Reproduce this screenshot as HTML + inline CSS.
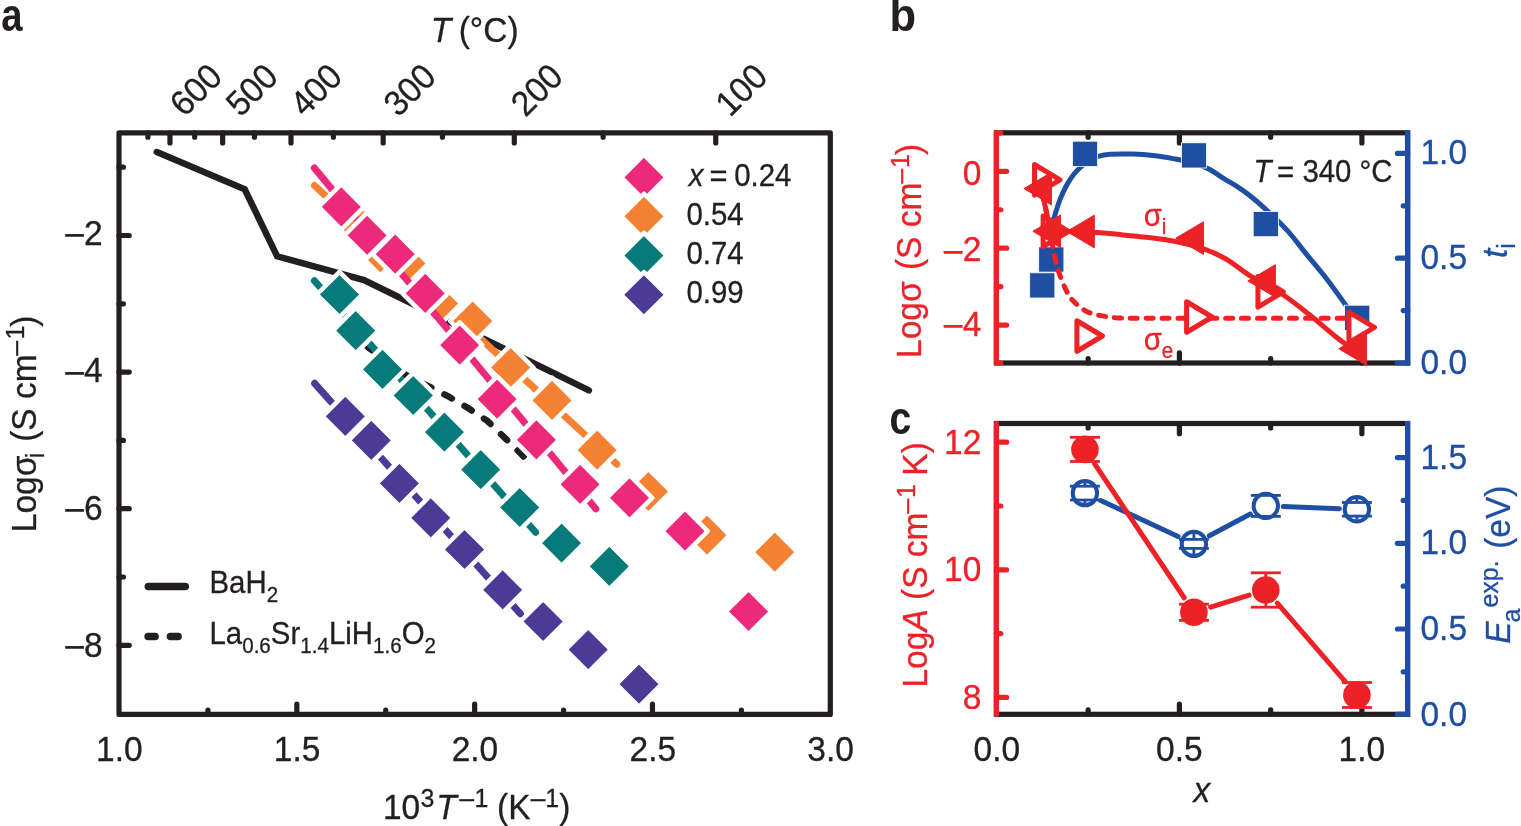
<!DOCTYPE html>
<html lang="en">
<head>
<meta charset="utf-8">
<title>Figure</title>
<style>
html,body{margin:0;padding:0;background:#fff;}
body{width:1521px;height:826px;overflow:hidden;}
svg{display:block;}
svg text{font-family:"Liberation Sans",sans-serif;white-space:pre;}
</style>
</head>
<body>
<svg width="1521" height="826" viewBox="0 0 1521 826">
<rect width="1521" height="826" fill="#fff"/>
<g id="panel-a">
<polyline points="156.8,152 244.7,189.3 277.2,256.3 364,280 588.9,390.3" fill="none" stroke="#231f20" stroke-width="6.5" stroke-linejoin="miter" stroke-linecap="round" />
<polyline points="358,338 369,348 406,375 432,388 448.2,396.3 467.7,407.8 487.3,420.8 503.7,436.8 520.7,453.4 526,459" fill="none" stroke="#231f20" stroke-width="6.5" stroke-linejoin="round" stroke-linecap="round" stroke-dasharray="8.5 14.7" stroke-dashoffset="12.31"/>
<line x1="314.4" y1="185.5" x2="616.9" y2="464.2" stroke="#f58232" stroke-width="7" stroke-linecap="round" />
<polygon points="354,198.3 376.7,221 354,243.7 331.3,221" fill="#f58232" stroke="#fff" stroke-width="4.5" stroke-linejoin="round"/>
<polygon points="380.3,230.1 403,252.8 380.3,275.5 357.6,252.8" fill="#f58232" stroke="#fff" stroke-width="4.5" stroke-linejoin="round"/>
<polygon points="405.9,240.7 428.6,263.4 405.9,286.1 383.2,263.4" fill="#f58232" stroke="#fff" stroke-width="4.5" stroke-linejoin="round"/>
<polygon points="438.5,280.8 461.2,303.5 438.5,326.2 415.8,303.5" fill="#f58232" stroke="#fff" stroke-width="4.5" stroke-linejoin="round"/>
<polygon points="472.7,298.3 495.4,321 472.7,343.7 450,321" fill="#f58232" stroke="#fff" stroke-width="4.5" stroke-linejoin="round"/>
<polygon points="510.7,344.8 533.4,367.5 510.7,390.2 488,367.5" fill="#f58232" stroke="#fff" stroke-width="4.5" stroke-linejoin="round"/>
<polygon points="552,377.6 574.7,400.3 552,423 529.3,400.3" fill="#f58232" stroke="#fff" stroke-width="4.5" stroke-linejoin="round"/>
<polygon points="597.1,427.4 619.8,450.1 597.1,472.8 574.4,450.1" fill="#f58232" stroke="#fff" stroke-width="4.5" stroke-linejoin="round"/>
<polygon points="648.4,468.8 671.1,491.5 648.4,514.2 625.7,491.5" fill="#f58232" stroke="#fff" stroke-width="4.5" stroke-linejoin="round"/>
<polygon points="707,512.4 729.7,535.1 707,557.8 684.3,535.1" fill="#f58232" stroke="#fff" stroke-width="4.5" stroke-linejoin="round"/>
<polygon points="774.7,529.5 797.4,552.2 774.7,574.9 752,552.2" fill="#f58232" stroke="#fff" stroke-width="4.5" stroke-linejoin="round"/>
<line x1="314.4" y1="168" x2="595.9" y2="508.9" stroke="#ec297b" stroke-width="7" stroke-linecap="round" />
<polygon points="341.3,184.2 364,206.9 341.3,229.6 318.6,206.9" fill="#ec297b" stroke="#fff" stroke-width="4.5" stroke-linejoin="round"/>
<polygon points="367.1,212.6 389.8,235.3 367.1,258 344.4,235.3" fill="#ec297b" stroke="#fff" stroke-width="4.5" stroke-linejoin="round"/>
<polygon points="395.2,231.4 417.9,254.1 395.2,276.8 372.5,254.1" fill="#ec297b" stroke="#fff" stroke-width="4.5" stroke-linejoin="round"/>
<polygon points="425.2,270.7 447.9,293.4 425.2,316.1 402.5,293.4" fill="#ec297b" stroke="#fff" stroke-width="4.5" stroke-linejoin="round"/>
<polygon points="459.7,322.4 482.4,345.1 459.7,367.8 437,345.1" fill="#ec297b" stroke="#fff" stroke-width="4.5" stroke-linejoin="round"/>
<polygon points="497.1,376.4 519.8,399.1 497.1,421.8 474.4,399.1" fill="#ec297b" stroke="#fff" stroke-width="4.5" stroke-linejoin="round"/>
<polygon points="536.4,417.1 559.1,439.8 536.4,462.5 513.7,439.8" fill="#ec297b" stroke="#fff" stroke-width="4.5" stroke-linejoin="round"/>
<polygon points="580.1,461.6 602.8,484.3 580.1,507 557.4,484.3" fill="#ec297b" stroke="#fff" stroke-width="4.5" stroke-linejoin="round"/>
<polygon points="629.5,475.2 652.2,497.9 629.5,520.6 606.8,497.9" fill="#ec297b" stroke="#fff" stroke-width="4.5" stroke-linejoin="round"/>
<polygon points="685,508.4 707.7,531.1 685,553.8 662.3,531.1" fill="#ec297b" stroke="#fff" stroke-width="4.5" stroke-linejoin="round"/>
<polygon points="748.6,588.8 771.3,611.5 748.6,634.2 725.9,611.5" fill="#ec297b" stroke="#fff" stroke-width="4.5" stroke-linejoin="round"/>
<line x1="314.4" y1="280.8" x2="535.6" y2="532.3" stroke="#077a7a" stroke-width="7" stroke-linecap="round" />
<polygon points="339.5,271.8 362.2,294.5 339.5,317.2 316.8,294.5" fill="#077a7a" stroke="#fff" stroke-width="4.5" stroke-linejoin="round"/>
<polygon points="355.7,307.9 378.4,330.6 355.7,353.3 333,330.6" fill="#077a7a" stroke="#fff" stroke-width="4.5" stroke-linejoin="round"/>
<polygon points="382.5,346.6 405.2,369.3 382.5,392 359.8,369.3" fill="#077a7a" stroke="#fff" stroke-width="4.5" stroke-linejoin="round"/>
<polygon points="413.2,372.8 435.9,395.5 413.2,418.2 390.5,395.5" fill="#077a7a" stroke="#fff" stroke-width="4.5" stroke-linejoin="round"/>
<polygon points="444.4,409.5 467.1,432.2 444.4,454.9 421.7,432.2" fill="#077a7a" stroke="#fff" stroke-width="4.5" stroke-linejoin="round"/>
<polygon points="480.7,446.9 503.4,469.6 480.7,492.3 458,469.6" fill="#077a7a" stroke="#fff" stroke-width="4.5" stroke-linejoin="round"/>
<polygon points="519.7,484.8 542.4,507.5 519.7,530.2 497,507.5" fill="#077a7a" stroke="#fff" stroke-width="4.5" stroke-linejoin="round"/>
<polygon points="561.6,520.4 584.3,543.1 561.6,565.8 538.9,543.1" fill="#077a7a" stroke="#fff" stroke-width="4.5" stroke-linejoin="round"/>
<polygon points="609.3,543.7 632,566.4 609.3,589.1 586.6,566.4" fill="#077a7a" stroke="#fff" stroke-width="4.5" stroke-linejoin="round"/>
<line x1="314.6" y1="383.3" x2="520.5" y2="613.9" stroke="#4b3b97" stroke-width="7" stroke-linecap="round" />
<polygon points="345.3,393.7 368,416.4 345.3,439.1 322.6,416.4" fill="#4b3b97" stroke="#fff" stroke-width="4.5" stroke-linejoin="round"/>
<polygon points="371.3,417.7 394,440.4 371.3,463.1 348.6,440.4" fill="#4b3b97" stroke="#fff" stroke-width="4.5" stroke-linejoin="round"/>
<polygon points="399.4,460.7 422.1,483.4 399.4,506.1 376.7,483.4" fill="#4b3b97" stroke="#fff" stroke-width="4.5" stroke-linejoin="round"/>
<polygon points="430.8,495.2 453.5,517.9 430.8,540.6 408.1,517.9" fill="#4b3b97" stroke="#fff" stroke-width="4.5" stroke-linejoin="round"/>
<polygon points="464.5,526.8 487.2,549.5 464.5,572.2 441.8,549.5" fill="#4b3b97" stroke="#fff" stroke-width="4.5" stroke-linejoin="round"/>
<polygon points="502.7,567.2 525.4,589.9 502.7,612.6 480,589.9" fill="#4b3b97" stroke="#fff" stroke-width="4.5" stroke-linejoin="round"/>
<polygon points="543.1,598.8 565.8,621.5 543.1,644.2 520.4,621.5" fill="#4b3b97" stroke="#fff" stroke-width="4.5" stroke-linejoin="round"/>
<polygon points="588.2,627 610.9,649.7 588.2,672.4 565.5,649.7" fill="#4b3b97" stroke="#fff" stroke-width="4.5" stroke-linejoin="round"/>
<polygon points="639,661.5 661.7,684.2 639,706.9 616.3,684.2" fill="#4b3b97" stroke="#fff" stroke-width="4.5" stroke-linejoin="round"/>
<polygon points="643.9,154.6 666.6,177.3 643.9,200 621.2,177.3" fill="#ec297b" stroke="#fff" stroke-width="4.5" stroke-linejoin="round"/>
<polygon points="643.9,193.75 666.6,216.45 643.9,239.15 621.2,216.45" fill="#f58232" stroke="#fff" stroke-width="4.5" stroke-linejoin="round"/>
<polygon points="643.9,232.9 666.6,255.6 643.9,278.3 621.2,255.6" fill="#077a7a" stroke="#fff" stroke-width="4.5" stroke-linejoin="round"/>
<polygon points="643.9,272.05 666.6,294.75 643.9,317.45 621.2,294.75" fill="#4b3b97" stroke="#fff" stroke-width="4.5" stroke-linejoin="round"/>
<text transform="translate(688.7,185.8) scale(1,1.045)" fill="#231f20" stroke="#231f20" stroke-width="0.3" stroke-linejoin="round"><tspan x="0" y="0" font-size="29.4" font-style="italic">x</tspan><tspan x="12.17" y="0" font-size="29.4" textLength="26.6" lengthAdjust="spacingAndGlyphs"> =</tspan><tspan x="37.34" y="0" font-size="29.4"> 0.24</tspan></text>
<text transform="translate(686.4,225) scale(1,1.045)" fill="#231f20" stroke="#231f20" stroke-width="0.3" stroke-linejoin="round"><tspan x="0" y="0" font-size="29.4">0.54</tspan></text>
<text transform="translate(686.4,264.1) scale(1,1.045)" fill="#231f20" stroke="#231f20" stroke-width="0.3" stroke-linejoin="round"><tspan x="0" y="0" font-size="29.4">0.74</tspan></text>
<text transform="translate(686.4,303.3) scale(1,1.045)" fill="#231f20" stroke="#231f20" stroke-width="0.3" stroke-linejoin="round"><tspan x="0" y="0" font-size="29.4">0.99</tspan></text>
<line x1="148.3" y1="586.5" x2="185.3" y2="586.5" stroke="#231f20" stroke-width="7.5" stroke-linecap="round" />
<line x1="148.1" y1="636.6" x2="155.1" y2="636.6" stroke="#231f20" stroke-width="7.5" stroke-linecap="round" />
<line x1="170.4" y1="636.6" x2="178.1" y2="636.6" stroke="#231f20" stroke-width="7.5" stroke-linecap="round" />
<text transform="translate(209.5,592.9) scale(1,1.045)" fill="#231f20" stroke="#231f20" stroke-width="0.3" stroke-linejoin="round"><tspan x="0" y="0" font-size="29.4">BaH</tspan><tspan x="57.19" y="8.52" font-size="20.6">2</tspan></text>
<text transform="translate(209.5,644.1) scale(1,1.045)" fill="#231f20" stroke="#231f20" stroke-width="0.3" stroke-linejoin="round"><tspan x="0" y="0" font-size="29.4">La</tspan><tspan x="32.7" y="8.52" font-size="20.6">0.6</tspan><tspan x="61.34" y="0" font-size="29.4">Sr</tspan><tspan x="90.74" y="8.52" font-size="20.6">1.4</tspan><tspan x="119.38" y="0" font-size="29.4">LiH</tspan><tspan x="163.49" y="8.52" font-size="20.6">1.6</tspan><tspan x="192.13" y="0" font-size="29.4">O</tspan><tspan x="214.99" y="8.52" font-size="20.6">2</tspan></text>
<rect x="119" y="132.8" width="711.3" height="581.6" fill="none" stroke="#231f20" stroke-width="5.2" stroke-linejoin="round"/>
<line x1="207.91" y1="714.4" x2="207.91" y2="710" stroke="#231f20" stroke-width="5.2" stroke-linecap="round" />
<line x1="296.82" y1="714.4" x2="296.82" y2="704.2" stroke="#231f20" stroke-width="5.2" stroke-linecap="round" />
<line x1="385.74" y1="714.4" x2="385.74" y2="710" stroke="#231f20" stroke-width="5.2" stroke-linecap="round" />
<line x1="474.65" y1="714.4" x2="474.65" y2="704.2" stroke="#231f20" stroke-width="5.2" stroke-linecap="round" />
<line x1="563.56" y1="714.4" x2="563.56" y2="710" stroke="#231f20" stroke-width="5.2" stroke-linecap="round" />
<line x1="652.47" y1="714.4" x2="652.47" y2="704.2" stroke="#231f20" stroke-width="5.2" stroke-linecap="round" />
<line x1="741.39" y1="714.4" x2="741.39" y2="710" stroke="#231f20" stroke-width="5.2" stroke-linecap="round" />
<line x1="119" y1="645.3" x2="129.2" y2="645.3" stroke="#231f20" stroke-width="5.2" stroke-linecap="round" />
<line x1="119" y1="577" x2="123.4" y2="577" stroke="#231f20" stroke-width="5.2" stroke-linecap="round" />
<line x1="119" y1="508.7" x2="129.2" y2="508.7" stroke="#231f20" stroke-width="5.2" stroke-linecap="round" />
<line x1="119" y1="440.4" x2="123.4" y2="440.4" stroke="#231f20" stroke-width="5.2" stroke-linecap="round" />
<line x1="119" y1="372.1" x2="129.2" y2="372.1" stroke="#231f20" stroke-width="5.2" stroke-linecap="round" />
<line x1="119" y1="303.8" x2="123.4" y2="303.8" stroke="#231f20" stroke-width="5.2" stroke-linecap="round" />
<line x1="119" y1="235.5" x2="129.2" y2="235.5" stroke="#231f20" stroke-width="5.2" stroke-linecap="round" />
<line x1="119" y1="167.2" x2="123.4" y2="167.2" stroke="#231f20" stroke-width="5.2" stroke-linecap="round" />
<line x1="715.75" y1="132.8" x2="715.75" y2="143" stroke="#231f20" stroke-width="5.2" stroke-linecap="round" />
<line x1="603.13" y1="132.8" x2="603.13" y2="137.2" stroke="#231f20" stroke-width="5.2" stroke-linecap="round" />
<line x1="514.31" y1="132.8" x2="514.31" y2="143" stroke="#231f20" stroke-width="5.2" stroke-linecap="round" />
<line x1="442.47" y1="132.8" x2="442.47" y2="137.2" stroke="#231f20" stroke-width="5.2" stroke-linecap="round" />
<line x1="383.17" y1="132.8" x2="383.17" y2="143" stroke="#231f20" stroke-width="5.2" stroke-linecap="round" />
<line x1="333.38" y1="132.8" x2="333.38" y2="137.2" stroke="#231f20" stroke-width="5.2" stroke-linecap="round" />
<line x1="290.99" y1="132.8" x2="290.99" y2="143" stroke="#231f20" stroke-width="5.2" stroke-linecap="round" />
<line x1="254.46" y1="132.8" x2="254.46" y2="137.2" stroke="#231f20" stroke-width="5.2" stroke-linecap="round" />
<line x1="222.65" y1="132.8" x2="222.65" y2="143" stroke="#231f20" stroke-width="5.2" stroke-linecap="round" />
<line x1="194.71" y1="132.8" x2="194.71" y2="137.2" stroke="#231f20" stroke-width="5.2" stroke-linecap="round" />
<line x1="169.97" y1="132.8" x2="169.97" y2="143" stroke="#231f20" stroke-width="5.2" stroke-linecap="round" />
<line x1="147.91" y1="132.8" x2="147.91" y2="137.2" stroke="#231f20" stroke-width="5.2" stroke-linecap="round" />
<text transform="translate(119.3,760.7) scale(1,1.045)" fill="#231f20" stroke="#231f20" stroke-width="0.3" stroke-linejoin="round"><tspan x="-23.28" y="0" font-size="33.5">1.0</tspan></text>
<text transform="translate(297.12,760.7) scale(1,1.045)" fill="#231f20" stroke="#231f20" stroke-width="0.3" stroke-linejoin="round"><tspan x="-23.28" y="0" font-size="33.5">1.5</tspan></text>
<text transform="translate(474.95,760.7) scale(1,1.045)" fill="#231f20" stroke="#231f20" stroke-width="0.3" stroke-linejoin="round"><tspan x="-23.28" y="0" font-size="33.5">2.0</tspan></text>
<text transform="translate(652.77,760.7) scale(1,1.045)" fill="#231f20" stroke="#231f20" stroke-width="0.3" stroke-linejoin="round"><tspan x="-23.28" y="0" font-size="33.5">2.5</tspan></text>
<text transform="translate(830.6,760.7) scale(1,1.045)" fill="#231f20" stroke="#231f20" stroke-width="0.3" stroke-linejoin="round"><tspan x="-23.28" y="0" font-size="33.5">3.0</tspan></text>
<text transform="translate(102.7,244.9) scale(1,1.045)" fill="#231f20" stroke="#231f20" stroke-width="0.3" stroke-linejoin="round"><tspan x="-39.56" y="2.3" font-size="33.5" textLength="22.3" lengthAdjust="spacingAndGlyphs">−</tspan><tspan x="-18.63" y="0" font-size="33.5">2</tspan></text>
<text transform="translate(102.7,382.3) scale(1,1.045)" fill="#231f20" stroke="#231f20" stroke-width="0.3" stroke-linejoin="round"><tspan x="-39.56" y="2.3" font-size="33.5" textLength="22.3" lengthAdjust="spacingAndGlyphs">−</tspan><tspan x="-18.63" y="0" font-size="33.5">4</tspan></text>
<text transform="translate(102.7,519.9) scale(1,1.045)" fill="#231f20" stroke="#231f20" stroke-width="0.3" stroke-linejoin="round"><tspan x="-39.56" y="2.3" font-size="33.5" textLength="22.3" lengthAdjust="spacingAndGlyphs">−</tspan><tspan x="-18.63" y="0" font-size="33.5">6</tspan></text>
<text transform="translate(102.7,657) scale(1,1.045)" fill="#231f20" stroke="#231f20" stroke-width="0.3" stroke-linejoin="round"><tspan x="-39.56" y="2.3" font-size="33.5" textLength="22.3" lengthAdjust="spacingAndGlyphs">−</tspan><tspan x="-18.63" y="0" font-size="33.5">8</tspan></text>
<text transform="translate(184.57,118.1) rotate(-45) scale(1,1.045)" fill="#231f20" stroke="#231f20" stroke-width="0.3" stroke-linejoin="round"><tspan x="0" y="0" font-size="33.5">600</tspan></text>
<text transform="translate(240.45,118.1) rotate(-45) scale(1,1.045)" fill="#231f20" stroke="#231f20" stroke-width="0.3" stroke-linejoin="round"><tspan x="0" y="0" font-size="33.5">500</tspan></text>
<text transform="translate(304.69,118.1) rotate(-45) scale(1,1.045)" fill="#231f20" stroke="#231f20" stroke-width="0.3" stroke-linejoin="round"><tspan x="0" y="0" font-size="33.5">400</tspan></text>
<text transform="translate(398.37,118.1) rotate(-45) scale(1,1.045)" fill="#231f20" stroke="#231f20" stroke-width="0.3" stroke-linejoin="round"><tspan x="0" y="0" font-size="33.5">300</tspan></text>
<text transform="translate(525.51,118.1) rotate(-45) scale(1,1.045)" fill="#231f20" stroke="#231f20" stroke-width="0.3" stroke-linejoin="round"><tspan x="0" y="0" font-size="33.5">200</tspan></text>
<text transform="translate(729.95,118.1) rotate(-45) scale(1,1.045)" fill="#231f20" stroke="#231f20" stroke-width="0.3" stroke-linejoin="round"><tspan x="0" y="0" font-size="33.5">100</tspan></text>
<text transform="translate(430.8,41.9) scale(1,1.045)" fill="#231f20" stroke="#231f20" stroke-width="0.3" stroke-linejoin="round"><tspan x="0" y="0" font-size="33.5" font-style="italic">T</tspan><tspan x="18.56" y="0" font-size="33.5"> (°C)</tspan></text>
<text transform="translate(383,818.9) scale(1,1.045)" fill="#231f20" stroke="#231f20" stroke-width="0.3" stroke-linejoin="round"><tspan x="0" y="0" font-size="33.5">10</tspan><tspan x="37.51" y="-11.87" font-size="25">3</tspan><tspan x="53.17" y="0" font-size="33.5" font-style="italic">T</tspan><tspan x="75.02" y="-9.95" font-size="25" textLength="17.52" lengthAdjust="spacingAndGlyphs">−</tspan><tspan x="91.43" y="-11.87" font-size="25">1</tspan><tspan x="104.73" y="0" font-size="33.5"> (K</tspan><tspan x="146.18" y="-9.95" font-size="25" textLength="17.52" lengthAdjust="spacingAndGlyphs">−</tspan><tspan x="162.24" y="-11.87" font-size="25">1</tspan><tspan x="176.14" y="0" font-size="33.5">)</tspan></text>
<text transform="translate(36,532.2) rotate(-90) scale(1,1.045)" fill="#231f20" stroke="#231f20" stroke-width="0.3" stroke-linejoin="round"><tspan x="0" y="0" font-size="33.5">Logσ</tspan><tspan x="73.97" y="7.85" font-size="25">i</tspan><tspan x="81.12" y="0" font-size="33.5"> (S cm</tspan><tspan x="175.23" y="-9.95" font-size="25" textLength="17.52" lengthAdjust="spacingAndGlyphs">−</tspan><tspan x="192.69" y="-11.87" font-size="25">1</tspan><tspan x="205.4" y="0" font-size="33.5">)</tspan></text>
<text transform="translate(-0.3,31) scale(1,1.045)" fill="#231f20"><tspan x="1.45" y="0" font-size="43.5" font-weight="bold" textLength="21.29" lengthAdjust="spacingAndGlyphs">a</tspan></text>
</g>
<g id="panel-b">
<rect x="996.4" y="132.8" width="411.25" height="230.2" fill="none" stroke="#231f20" stroke-width="5.2"/>
<line x1="1088.15" y1="132.8" x2="1088.15" y2="137.2" stroke="#231f20" stroke-width="5.2" stroke-linecap="round" />
<line x1="1088.15" y1="363" x2="1088.15" y2="358.6" stroke="#231f20" stroke-width="5.2" stroke-linecap="round" />
<line x1="1179.4" y1="132.8" x2="1179.4" y2="143" stroke="#231f20" stroke-width="5.2" stroke-linecap="round" />
<line x1="1179.4" y1="363" x2="1179.4" y2="352.8" stroke="#231f20" stroke-width="5.2" stroke-linecap="round" />
<line x1="1270.65" y1="132.8" x2="1270.65" y2="137.2" stroke="#231f20" stroke-width="5.2" stroke-linecap="round" />
<line x1="1270.65" y1="363" x2="1270.65" y2="358.6" stroke="#231f20" stroke-width="5.2" stroke-linecap="round" />
<line x1="1361.9" y1="132.8" x2="1361.9" y2="143" stroke="#231f20" stroke-width="5.2" stroke-linecap="round" />
<line x1="1361.9" y1="363" x2="1361.9" y2="352.8" stroke="#231f20" stroke-width="5.2" stroke-linecap="round" />
<line x1="996.4" y1="132.8" x2="996.4" y2="363" stroke="#ec2227" stroke-width="5.2" stroke-linecap="round" />
<line x1="996.4" y1="363" x2="1000.8" y2="363" stroke="#ec2227" stroke-width="5.2" stroke-linecap="round" />
<line x1="996.4" y1="325.1" x2="1006.6" y2="325.1" stroke="#ec2227" stroke-width="5.2" stroke-linecap="round" />
<line x1="996.4" y1="286.65" x2="1000.8" y2="286.65" stroke="#ec2227" stroke-width="5.2" stroke-linecap="round" />
<line x1="996.4" y1="248.2" x2="1006.6" y2="248.2" stroke="#ec2227" stroke-width="5.2" stroke-linecap="round" />
<line x1="996.4" y1="209.75" x2="1000.8" y2="209.75" stroke="#ec2227" stroke-width="5.2" stroke-linecap="round" />
<line x1="996.4" y1="171.3" x2="1006.6" y2="171.3" stroke="#ec2227" stroke-width="5.2" stroke-linecap="round" />
<line x1="996.4" y1="132.8" x2="1000.8" y2="132.8" stroke="#ec2227" stroke-width="5.2" stroke-linecap="round" />
<line x1="1407.65" y1="130.2" x2="1407.65" y2="365.6" stroke="#1f4fa3" stroke-width="5.2" stroke-linecap="butt" />
<line x1="1407.65" y1="363" x2="1397.45" y2="363" stroke="#1f4fa3" stroke-width="5.2" stroke-linecap="round" />
<line x1="1407.65" y1="310.6" x2="1403.25" y2="310.6" stroke="#1f4fa3" stroke-width="5.2" stroke-linecap="round" />
<line x1="1407.65" y1="258.2" x2="1397.45" y2="258.2" stroke="#1f4fa3" stroke-width="5.2" stroke-linecap="round" />
<line x1="1407.65" y1="205.8" x2="1403.25" y2="205.8" stroke="#1f4fa3" stroke-width="5.2" stroke-linecap="round" />
<line x1="1407.65" y1="153.4" x2="1397.45" y2="153.4" stroke="#1f4fa3" stroke-width="5.2" stroke-linecap="round" />
<path d="M1052.5,223 C1052.85,221.82 1053.37,219.75 1054.6,215.9 C1055.83,212.05 1057.9,205.02 1059.9,199.9 C1061.9,194.78 1064.15,189.63 1066.6,185.2 C1069.05,180.77 1071.93,176.62 1074.6,173.3 C1077.27,169.98 1080.03,167.52 1082.6,165.3 C1085.17,163.08 1087.57,161.45 1090,160 C1092.43,158.55 1093.78,157.55 1097.2,156.6 C1100.62,155.65 1104.5,154.72 1110.5,154.3 C1116.5,153.88 1126.1,153.9 1133.2,154.1 C1140.3,154.3 1146.45,154.75 1153.1,155.5 C1159.75,156.25 1166.28,157.35 1173.1,158.6 C1179.92,159.85 1187.97,161.22 1194,163 C1200.03,164.78 1204.32,166.7 1209.3,169.3 C1214.28,171.9 1219.23,175.72 1223.9,178.6 C1228.57,181.48 1232.63,183.5 1237.3,186.6 C1241.97,189.7 1246.5,192.8 1251.9,197.2 C1257.3,201.6 1263.67,207.3 1269.7,213 C1275.73,218.7 1281.95,224.5 1288.1,231.4 C1294.25,238.3 1300.07,246.35 1306.6,254.4 C1313.13,262.45 1320.78,271.27 1327.3,279.7 C1333.82,288.13 1341.08,298.78 1345.7,305 C1350.32,311.22 1353.45,315 1355,317" fill="none" stroke="#1f4fa3" stroke-width="5" stroke-linejoin="round" stroke-linecap="round" />
<rect x="1029.7" y="272.8" width="25.2" height="25.2" fill="#1f4fa3" stroke="#fff" stroke-width="0.8"/>
<rect x="1038.7" y="246.9" width="25.2" height="25.2" fill="#1f4fa3" stroke="#fff" stroke-width="0.8"/>
<rect x="1072.4" y="141.2" width="25.2" height="25.2" fill="#1f4fa3" stroke="#fff" stroke-width="0.8"/>
<rect x="1181.4" y="142.8" width="25.2" height="25.2" fill="#1f4fa3" stroke="#fff" stroke-width="0.8"/>
<rect x="1253.2" y="211.5" width="25.2" height="25.2" fill="#1f4fa3" stroke="#fff" stroke-width="0.8"/>
<rect x="1344.6" y="305.2" width="25.2" height="25.2" fill="#1f4fa3" stroke="#fff" stroke-width="0.8"/>
<path d="M1043,196 C1043.5,198.33 1044.83,204.17 1046,210 C1047.17,215.83 1048.57,223.23 1050,231 C1051.43,238.77 1052.95,249.23 1054.6,256.6 C1056.25,263.97 1057.9,269.43 1059.9,275.2 C1061.9,280.97 1064.75,287.32 1066.6,291.2 C1068.45,295.08 1069,296.03 1071,298.5 C1073,300.97 1075.57,303.65 1078.6,306 C1081.63,308.35 1085.22,310.95 1089.2,312.6 C1093.18,314.25 1097.72,315.02 1102.5,315.9 C1107.28,316.78 1111.65,317.52 1117.9,317.9 C1124.15,318.28 1126.32,318.15 1140,318.2 C1153.68,318.25 1165.67,318.2 1200,318.2 C1234.33,318.2 1321.67,318.2 1346,318.2" fill="none" stroke="#ec2227" stroke-width="5" stroke-linejoin="round" stroke-linecap="round" stroke-dasharray="7 8.9" stroke-dashoffset="3.04"/>
<polygon points="1034.52,164.52 1060.02,179.8 1034.52,195.08" fill="#fff" stroke="#ec2227" stroke-width="5.04" stroke-linejoin="round"/>
<polygon points="1043.12,216.02 1068.62,231.3 1043.12,246.58" fill="#fff" stroke="#ec2227" stroke-width="5.04" stroke-linejoin="round"/>
<polygon points="1076.92,320.72 1102.42,336 1076.92,351.28" fill="#fff" stroke="#ec2227" stroke-width="5.04" stroke-linejoin="round"/>
<polygon points="1186.62,301.72 1212.12,317 1186.62,332.28" fill="#fff" stroke="#ec2227" stroke-width="5.04" stroke-linejoin="round"/>
<polygon points="1257.92,276.52 1283.42,291.8 1257.92,307.08" fill="#fff" stroke="#ec2227" stroke-width="5.04" stroke-linejoin="round"/>
<polygon points="1348.92,312.12 1374.42,327.4 1348.92,342.68" fill="#fff" stroke="#ec2227" stroke-width="5.04" stroke-linejoin="round"/>
<path d="M1042.5,195 C1043.08,197.5 1044.83,204.83 1046,210 C1047.17,215.17 1047.83,222.47 1049.5,226 C1051.17,229.53 1051.75,230.28 1056,231.2 C1060.25,232.12 1068.35,231.27 1075,231.5 C1081.65,231.73 1088.43,232.08 1095.9,232.6 C1103.37,233.12 1111.37,233.82 1119.8,234.6 C1128.23,235.38 1137.4,236.18 1146.5,237.3 C1155.6,238.42 1164.98,239.4 1174.4,241.3 C1183.82,243.2 1194.4,245.75 1203,248.7 C1211.6,251.65 1218.33,254.6 1226,259 C1233.67,263.4 1239.8,269.35 1249,275.1 C1258.2,280.85 1271.22,286.97 1281.2,293.5 C1291.18,300.03 1299.68,307 1308.9,314.3 C1318.12,321.6 1328.83,331.18 1336.5,337.3 C1344.17,343.42 1351.83,348.72 1354.9,351" fill="none" stroke="#ec2227" stroke-width="5" stroke-linejoin="round" stroke-linecap="round" />
<polygon points="1023.9,188.6 1051.5,172.25 1051.5,204.95" fill="#ec2227" stroke="#ec2227" stroke-width="1" stroke-linejoin="round"/>
<polygon points="1032.9,231.3 1060.5,214.95 1060.5,247.65" fill="#ec2227" stroke="#ec2227" stroke-width="1" stroke-linejoin="round"/>
<polygon points="1066.7,231.5 1094.3,215.15 1094.3,247.85" fill="#ec2227" stroke="#ec2227" stroke-width="1" stroke-linejoin="round"/>
<polygon points="1175.9,238.1 1203.5,221.75 1203.5,254.45" fill="#ec2227" stroke="#ec2227" stroke-width="1" stroke-linejoin="round"/>
<polygon points="1247.8,281 1275.4,264.65 1275.4,297.35" fill="#ec2227" stroke="#ec2227" stroke-width="1" stroke-linejoin="round"/>
<polygon points="1338.8,348.8 1366.4,332.45 1366.4,365.15" fill="#ec2227" stroke="#ec2227" stroke-width="1" stroke-linejoin="round"/>
<text transform="translate(981.3,185.3) scale(1,1.045)" fill="#ec2227" stroke="#ec2227" stroke-width="0.3" stroke-linejoin="round"><tspan x="-18.63" y="0" font-size="33.5">0</tspan></text>
<text transform="translate(981.3,261.2) scale(1,1.045)" fill="#ec2227" stroke="#ec2227" stroke-width="0.3" stroke-linejoin="round"><tspan x="-39.56" y="2.3" font-size="33.5" textLength="22.3" lengthAdjust="spacingAndGlyphs">−</tspan><tspan x="-18.63" y="0" font-size="33.5">2</tspan></text>
<text transform="translate(981.3,335.8) scale(1,1.045)" fill="#ec2227" stroke="#ec2227" stroke-width="0.3" stroke-linejoin="round"><tspan x="-39.56" y="2.3" font-size="33.5" textLength="22.3" lengthAdjust="spacingAndGlyphs">−</tspan><tspan x="-18.63" y="0" font-size="33.5">4</tspan></text>
<text transform="translate(1420.5,374) scale(1,1.045)" fill="#1f4fa3" stroke="#1f4fa3" stroke-width="0.3" stroke-linejoin="round"><tspan x="0" y="0" font-size="33.5">0.0</tspan></text>
<text transform="translate(1420.5,269.2) scale(1,1.045)" fill="#1f4fa3" stroke="#1f4fa3" stroke-width="0.3" stroke-linejoin="round"><tspan x="0" y="0" font-size="33.5">0.5</tspan></text>
<text transform="translate(1420.5,164.4) scale(1,1.045)" fill="#1f4fa3" stroke="#1f4fa3" stroke-width="0.3" stroke-linejoin="round"><tspan x="0" y="0" font-size="33.5">1.0</tspan></text>
<text transform="translate(921.2,357.9) rotate(-90) scale(1,1.045)" fill="#ec2227" stroke="#ec2227" stroke-width="0.3" stroke-linejoin="round"><tspan x="0" y="0" font-size="33.5">Logσ</tspan><tspan x="78.57" y="0" font-size="33.5"> (S cm</tspan><tspan x="172.88" y="-9.95" font-size="25" textLength="17.52" lengthAdjust="spacingAndGlyphs">−</tspan><tspan x="189.94" y="-11.87" font-size="25">1</tspan><tspan x="202.84" y="0" font-size="33.5">)</tspan></text>
<text transform="translate(1507,258) rotate(-90) scale(1,1.045)" fill="#1f4fa3" stroke="#1f4fa3" stroke-width="0.3" stroke-linejoin="round"><tspan x="0" y="0" font-size="33.5" font-style="italic">t</tspan><tspan x="9.31" y="7.85" font-size="25">i</tspan></text>
<text transform="translate(1253.4,181.9) scale(1,1.045)" fill="#231f20" stroke="#231f20" stroke-width="0.3" stroke-linejoin="round"><tspan x="0" y="0" font-size="29.4" font-style="italic">T</tspan><tspan x="15.56" y="0" font-size="29.4"> = 340 °C</tspan></text>
<text transform="translate(1143.7,225.5) scale(1,1.045)" fill="#ec2227" stroke="#ec2227" stroke-width="0.3" stroke-linejoin="round"><tspan x="0" y="0" font-size="29.4">σ</tspan><tspan x="18.15" y="7.66" font-size="20.6">i</tspan></text>
<text transform="translate(1143.7,349.5) scale(1,1.045)" fill="#ec2227" stroke="#ec2227" stroke-width="0.3" stroke-linejoin="round"><tspan x="0" y="0" font-size="29.4">σ</tspan><tspan x="18.15" y="7.66" font-size="20.6">e</tspan></text>
<text transform="translate(889.5,31.3) scale(1,1.045)" fill="#231f20"><tspan x="0" y="0" font-size="43.5" font-weight="bold">b</tspan></text>
</g>
<g id="panel-c">
<rect x="996.4" y="423.5" width="411.2" height="290.8" fill="none" stroke="#231f20" stroke-width="5.2"/>
<line x1="1088.15" y1="423.5" x2="1088.15" y2="427.9" stroke="#231f20" stroke-width="5.2" stroke-linecap="round" />
<line x1="1088.15" y1="714.3" x2="1088.15" y2="709.9" stroke="#231f20" stroke-width="5.2" stroke-linecap="round" />
<line x1="1179.4" y1="423.5" x2="1179.4" y2="433.7" stroke="#231f20" stroke-width="5.2" stroke-linecap="round" />
<line x1="1179.4" y1="714.3" x2="1179.4" y2="704.1" stroke="#231f20" stroke-width="5.2" stroke-linecap="round" />
<line x1="1270.65" y1="423.5" x2="1270.65" y2="427.9" stroke="#231f20" stroke-width="5.2" stroke-linecap="round" />
<line x1="1270.65" y1="714.3" x2="1270.65" y2="709.9" stroke="#231f20" stroke-width="5.2" stroke-linecap="round" />
<line x1="1361.9" y1="423.5" x2="1361.9" y2="433.7" stroke="#231f20" stroke-width="5.2" stroke-linecap="round" />
<line x1="1361.9" y1="714.3" x2="1361.9" y2="704.1" stroke="#231f20" stroke-width="5.2" stroke-linecap="round" />
<line x1="996.4" y1="423.5" x2="996.4" y2="714.3" stroke="#ec2227" stroke-width="5.2" stroke-linecap="round" />
<line x1="996.4" y1="697.4" x2="1006.6" y2="697.4" stroke="#ec2227" stroke-width="5.2" stroke-linecap="round" />
<line x1="996.4" y1="633.6" x2="1000.8" y2="633.6" stroke="#ec2227" stroke-width="5.2" stroke-linecap="round" />
<line x1="996.4" y1="569.8" x2="1006.6" y2="569.8" stroke="#ec2227" stroke-width="5.2" stroke-linecap="round" />
<line x1="996.4" y1="506" x2="1000.8" y2="506" stroke="#ec2227" stroke-width="5.2" stroke-linecap="round" />
<line x1="996.4" y1="442.2" x2="1006.6" y2="442.2" stroke="#ec2227" stroke-width="5.2" stroke-linecap="round" />
<line x1="1407.6" y1="420.9" x2="1407.6" y2="716.9" stroke="#1f4fa3" stroke-width="5.2" stroke-linecap="butt" />
<line x1="1407.6" y1="714.3" x2="1397.4" y2="714.3" stroke="#1f4fa3" stroke-width="5.2" stroke-linecap="round" />
<line x1="1407.6" y1="671.85" x2="1403.2" y2="671.85" stroke="#1f4fa3" stroke-width="5.2" stroke-linecap="round" />
<line x1="1407.6" y1="629" x2="1397.4" y2="629" stroke="#1f4fa3" stroke-width="5.2" stroke-linecap="round" />
<line x1="1407.6" y1="586.15" x2="1403.2" y2="586.15" stroke="#1f4fa3" stroke-width="5.2" stroke-linecap="round" />
<line x1="1407.6" y1="543.3" x2="1397.4" y2="543.3" stroke="#1f4fa3" stroke-width="5.2" stroke-linecap="round" />
<line x1="1407.6" y1="500.45" x2="1403.2" y2="500.45" stroke="#1f4fa3" stroke-width="5.2" stroke-linecap="round" />
<line x1="1407.6" y1="457.6" x2="1397.4" y2="457.6" stroke="#1f4fa3" stroke-width="5.2" stroke-linecap="round" />
<line x1="1100.76" y1="500.49" x2="1178.04" y2="536.51" stroke="#1f4fa3" stroke-width="5" stroke-linecap="round" />
<line x1="1209.37" y1="535.72" x2="1250.33" y2="514.08" stroke="#1f4fa3" stroke-width="5" stroke-linecap="round" />
<line x1="1283.29" y1="506.55" x2="1339.41" y2="508.65" stroke="#1f4fa3" stroke-width="5" stroke-linecap="round" />
<line x1="1094.63" y1="463.94" x2="1184.17" y2="597.76" stroke="#ec2227" stroke-width="5" stroke-linecap="round" />
<line x1="1210.61" y1="607.12" x2="1249.09" y2="595.18" stroke="#ec2227" stroke-width="5" stroke-linecap="round" />
<line x1="1277.27" y1="603.22" x2="1345.43" y2="681.78" stroke="#ec2227" stroke-width="5" stroke-linecap="round" />
<circle cx="1084.9" cy="493.1" r="12.2" fill="#fff" stroke="#1f4fa3" stroke-width="4"/>
<line x1="1084.9" y1="482.6" x2="1084.9" y2="503.6" stroke="#1f4fa3" stroke-width="2.8" stroke-linecap="butt" />
<rect x="1080.9" y="486.2" width="8" height="13.8" fill="#fff"/>
<line x1="1069.9" y1="486.2" x2="1099.9" y2="486.2" stroke="#1f4fa3" stroke-width="2.8" stroke-linecap="butt" />
<line x1="1069.9" y1="500" x2="1099.9" y2="500" stroke="#1f4fa3" stroke-width="2.8" stroke-linecap="butt" />
<circle cx="1193.9" cy="543.9" r="12.2" fill="#fff" stroke="#1f4fa3" stroke-width="4"/>
<line x1="1193.9" y1="533.4" x2="1193.9" y2="554.4" stroke="#1f4fa3" stroke-width="2.8" stroke-linecap="butt" />
<rect x="1189.9" y="539.4" width="8" height="9" fill="#fff"/>
<line x1="1178.9" y1="539.4" x2="1208.9" y2="539.4" stroke="#1f4fa3" stroke-width="2.8" stroke-linecap="butt" />
<line x1="1178.9" y1="548.4" x2="1208.9" y2="548.4" stroke="#1f4fa3" stroke-width="2.8" stroke-linecap="butt" />
<circle cx="1265.8" cy="505.9" r="12.2" fill="#fff" stroke="#1f4fa3" stroke-width="4"/>
<line x1="1265.8" y1="495.4" x2="1265.8" y2="516.4" stroke="#1f4fa3" stroke-width="2.8" stroke-linecap="butt" />
<rect x="1261.8" y="495.4" width="8" height="21" fill="#fff"/>
<line x1="1250.8" y1="495.4" x2="1280.8" y2="495.4" stroke="#1f4fa3" stroke-width="2.8" stroke-linecap="butt" />
<line x1="1250.8" y1="516.4" x2="1280.8" y2="516.4" stroke="#1f4fa3" stroke-width="2.8" stroke-linecap="butt" />
<circle cx="1356.9" cy="509.3" r="12.2" fill="#fff" stroke="#1f4fa3" stroke-width="4"/>
<line x1="1356.9" y1="498.8" x2="1356.9" y2="519.8" stroke="#1f4fa3" stroke-width="2.8" stroke-linecap="butt" />
<rect x="1352.9" y="502.5" width="8" height="13.6" fill="#fff"/>
<line x1="1341.9" y1="502.5" x2="1371.9" y2="502.5" stroke="#1f4fa3" stroke-width="2.8" stroke-linecap="butt" />
<line x1="1341.9" y1="516.1" x2="1371.9" y2="516.1" stroke="#1f4fa3" stroke-width="2.8" stroke-linecap="butt" />
<line x1="1084.9" y1="437.3" x2="1084.9" y2="461.5" stroke="#ec2227" stroke-width="2.8" stroke-linecap="butt" />
<circle cx="1084.9" cy="449.4" r="13.8" fill="#ec2227"/>
<line x1="1069.9" y1="437.3" x2="1099.9" y2="437.3" stroke="#ec2227" stroke-width="2.8" stroke-linecap="butt" />
<line x1="1069.9" y1="461.5" x2="1099.9" y2="461.5" stroke="#ec2227" stroke-width="2.8" stroke-linecap="butt" />
<line x1="1193.9" y1="604.2" x2="1193.9" y2="620.4" stroke="#ec2227" stroke-width="2.8" stroke-linecap="butt" />
<circle cx="1193.9" cy="612.3" r="13.8" fill="#ec2227"/>
<line x1="1178.9" y1="604.2" x2="1208.9" y2="604.2" stroke="#ec2227" stroke-width="2.8" stroke-linecap="butt" />
<line x1="1178.9" y1="620.4" x2="1208.9" y2="620.4" stroke="#ec2227" stroke-width="2.8" stroke-linecap="butt" />
<line x1="1265.8" y1="572.8" x2="1265.8" y2="607.2" stroke="#ec2227" stroke-width="2.8" stroke-linecap="butt" />
<circle cx="1265.8" cy="590" r="13.8" fill="#ec2227"/>
<line x1="1250.8" y1="572.8" x2="1280.8" y2="572.8" stroke="#ec2227" stroke-width="2.8" stroke-linecap="butt" />
<line x1="1250.8" y1="607.2" x2="1280.8" y2="607.2" stroke="#ec2227" stroke-width="2.8" stroke-linecap="butt" />
<line x1="1356.9" y1="682.5" x2="1356.9" y2="707.5" stroke="#ec2227" stroke-width="2.8" stroke-linecap="butt" />
<circle cx="1356.9" cy="695" r="13.8" fill="#ec2227"/>
<line x1="1341.9" y1="682.5" x2="1371.9" y2="682.5" stroke="#ec2227" stroke-width="2.8" stroke-linecap="butt" />
<line x1="1341.9" y1="707.5" x2="1371.9" y2="707.5" stroke="#ec2227" stroke-width="2.8" stroke-linecap="butt" />
<text transform="translate(981.3,708.7) scale(1,1.045)" fill="#ec2227" stroke="#ec2227" stroke-width="0.3" stroke-linejoin="round"><tspan x="-18.63" y="0" font-size="33.5">8</tspan></text>
<text transform="translate(981.3,581.1) scale(1,1.045)" fill="#ec2227" stroke="#ec2227" stroke-width="0.3" stroke-linejoin="round"><tspan x="-37.26" y="0" font-size="33.5">10</tspan></text>
<text transform="translate(981.3,453.5) scale(1,1.045)" fill="#ec2227" stroke="#ec2227" stroke-width="0.3" stroke-linejoin="round"><tspan x="-37.26" y="0" font-size="33.5">12</tspan></text>
<text transform="translate(1420.5,725.7) scale(1,1.045)" fill="#1f4fa3" stroke="#1f4fa3" stroke-width="0.3" stroke-linejoin="round"><tspan x="0" y="0" font-size="33.5">0.0</tspan></text>
<text transform="translate(1420.5,640) scale(1,1.045)" fill="#1f4fa3" stroke="#1f4fa3" stroke-width="0.3" stroke-linejoin="round"><tspan x="0" y="0" font-size="33.5">0.5</tspan></text>
<text transform="translate(1420.5,554.3) scale(1,1.045)" fill="#1f4fa3" stroke="#1f4fa3" stroke-width="0.3" stroke-linejoin="round"><tspan x="0" y="0" font-size="33.5">1.0</tspan></text>
<text transform="translate(1420.5,468.6) scale(1,1.045)" fill="#1f4fa3" stroke="#1f4fa3" stroke-width="0.3" stroke-linejoin="round"><tspan x="0" y="0" font-size="33.5">1.5</tspan></text>
<text transform="translate(996.8,760.7) scale(1,1.045)" fill="#231f20" stroke="#231f20" stroke-width="0.3" stroke-linejoin="round"><tspan x="-23.28" y="0" font-size="33.5">0.0</tspan></text>
<text transform="translate(1179.3,760.7) scale(1,1.045)" fill="#231f20" stroke="#231f20" stroke-width="0.3" stroke-linejoin="round"><tspan x="-23.28" y="0" font-size="33.5">0.5</tspan></text>
<text transform="translate(1361.8,760.7) scale(1,1.045)" fill="#231f20" stroke="#231f20" stroke-width="0.3" stroke-linejoin="round"><tspan x="-23.28" y="0" font-size="33.5">1.0</tspan></text>
<text transform="translate(1193.5,801.5) scale(1,1.045)" fill="#231f20" stroke="#231f20" stroke-width="0.3" stroke-linejoin="round"><tspan x="0" y="0" font-size="33.5" font-style="italic">x</tspan></text>
<text transform="translate(927.2,687.5) rotate(-90) scale(1,1.045)" fill="#ec2227" stroke="#ec2227" stroke-width="0.3" stroke-linejoin="round"><tspan x="0" y="0" font-size="33.5">Log</tspan><tspan x="55.89" y="0" font-size="33.5" font-style="italic">A</tspan><tspan x="78.24" y="0" font-size="33.5"> (S cm</tspan><tspan x="172.55" y="-9.95" font-size="25" textLength="17.52" lengthAdjust="spacingAndGlyphs">−</tspan><tspan x="189.61" y="-11.87" font-size="25">1</tspan><tspan x="202.51" y="0" font-size="33.5"> K)</tspan></text>
<text transform="translate(1509.8,643.8) rotate(-90) scale(1,1.045)" fill="#1f4fa3" stroke="#1f4fa3" stroke-width="0.3" stroke-linejoin="round"><tspan x="0" y="0" font-size="33.5" font-style="italic">E</tspan><tspan x="21.34" y="9.57" font-size="25">a</tspan><tspan x="36.25" y="-11.48" font-size="25">exp.</tspan><tspan x="85.7" y="0" font-size="33.5"> (eV)</tspan></text>
<text transform="translate(889.5,434) scale(1,1.045)" fill="#231f20"><tspan x="0.01" y="0" font-size="43.5" font-weight="bold" textLength="21.77" lengthAdjust="spacingAndGlyphs">c</tspan></text>
</g>
</svg>
</body>
</html>
